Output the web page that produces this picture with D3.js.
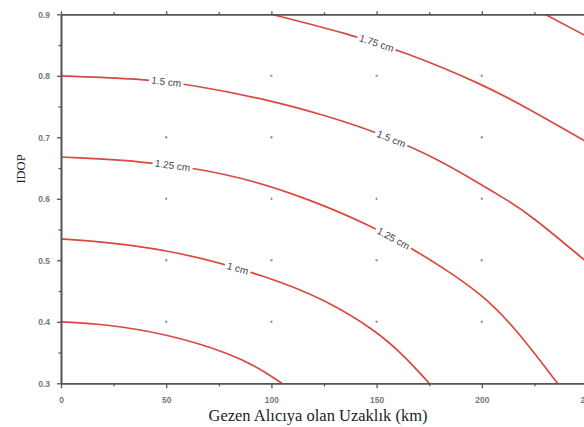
<!DOCTYPE html>
<html>
<head>
<meta charset="utf-8">
<script src="https://cdn.jsdelivr.net/npm/d3@7"></script>
<style>
  body { margin: 0; background: #fff; }
  svg { display: block; }
</style>
</head>
<body>
<div id="chart"></div>
<script>
const svgWidth = 584;
const svgHeight = 427;
const lineColor = "#d9493f";
const axisColor = "#555";

// contour lines, [distance km, IDOP]
const c075 = [[0, 0.400], [19, 0.397], [50, 0.381], [81, 0.348], [95, 0.323], [105, 0.300]];
const c100 = [[0, 0.535], [50, 0.521], [100, 0.472], [126, 0.435], [150, 0.385], [163, 0.345], [175, 0.300]];
const c125 = [[0, 0.668], [39, 0.661], [65, 0.649], [90, 0.631], [119, 0.598], [147, 0.557], [170, 0.513], [185, 0.480], [200, 0.444], [215, 0.394], [236, 0.300]];
const c150 = [[0, 0.800], [38, 0.795], [60, 0.787], [100, 0.760], [125, 0.736], [148, 0.711], [175, 0.672], [196, 0.631], [212, 0.598], [223, 0.574], [250, 0.497]];
const c175 = [[100, 0.900], [136, 0.869], [164, 0.838], [200, 0.787], [223, 0.745], [250, 0.692]];
const c200 = [[230, 0.900], [250, 0.864]];
const contours = [c075, c100, c125, c150, c175, c200];

// contour labels: which line, text, distance where it sits
const labelLine = [3, 4, 3, 2, 2, 1];
const labelText = ["1.5 cm", "1.75 cm", "1.5 cm", "1.25 cm", "1.25 cm", "1 cm"];
const labelAt = [50, 150, 157, 53, 158, 84];

const xTicks = [0, 50, 100, 150, 200, 250];
const yTicks = [0.3, 0.4, 0.5, 0.6, 0.7, 0.8, 0.9];
const xMinor = [25, 75, 125, 175, 225];
const yMinor = [0.35, 0.45, 0.55, 0.65, 0.75, 0.85];
const dotX = [50, 100, 150, 200, 250];
const dotY = [0.4, 0.5, 0.6, 0.7, 0.8];

const svg = d3.select("#chart").append("svg")
  .attr("width", svgWidth)
  .attr("height", svgHeight);

let x = d3.scaleLinear().domain([0, 250]).range([61, 587]);
let y = d3.scaleLinear().domain([0.3, 0.9]).range([383.3, 14.3]);

svg.append("clipPath").attr("id", "plot")
  .append("rect")
  .attr("x", x(0)).attr("y", y(0.9))
  .attr("width", x(250) - x(0)).attr("height", y(0.3) - y(0.9));

// grid dots
let dots = [];
dotX.forEach(a => dotY.forEach(b => dots.push([a, b])));
svg.append("g").selectAll("circle")
  .data(dots)
  .enter()
  .append("circle")
  .attr("cx", d => x(d[0]))
  .attr("cy", d => y(d[1]))
  .attr("r", 1.2)
  .attr("fill", "#9a9a9a");

// contour lines
let line = d3.line()
  .x(d => x(d[0]))
  .y(d => y(d[1]))
  .curve(d3.curveBasis);

let paths = svg.append("g").attr("clip-path", "url(#plot)")
  .selectAll("path")
  .data(contours)
  .enter()
  .append("path")
  .attr("d", line)
  .attr("fill", "none")
  .attr("stroke", lineColor)
  .attr("stroke-width", 1.7);

// find point on a path at a given x pixel
function pointAtX(node, px) {
  let lo = 0, hi = node.getTotalLength();
  for (let i = 0; i < 40; i++) {
    let mid = (lo + hi) / 2;
    if (node.getPointAtLength(mid).x < px) lo = mid; else hi = mid;
  }
  let p = node.getPointAtLength(lo);
  let a = node.getPointAtLength(Math.max(0, lo - 6));
  let b = node.getPointAtLength(lo + 6);
  return { x: p.x, y: p.y, angle: Math.atan2(b.y - a.y, b.x - a.x) * 180 / Math.PI };
}

let pathNodes = paths.nodes();
labelText.forEach((t, i) => {
  let p = pointAtX(pathNodes[labelLine[i]], x(labelAt[i]));
  svg.append("text")
    .attr("transform", `translate(${p.x},${p.y}) rotate(${p.angle})`)
    .attr("text-anchor", "middle")
    .attr("dy", "0.35em")
    .style("font-family", "'Liberation Sans', Arial, sans-serif")
    .style("font-size", "10px")
    .attr("fill", "#444")
    .attr("stroke", "#fff")
    .attr("stroke-width", 6)
    .attr("paint-order", "stroke")
    .text(t);
});

// axes
function styleAxis(g) {
  g.select(".domain").attr("stroke", axisColor).attr("stroke-width", 1.6);
  g.selectAll(".tick line").attr("stroke", axisColor).attr("stroke-width", 1.3);
  g.selectAll(".tick text")
    .attr("fill", "#777")
    .style("font-family", "'Liberation Sans', Arial, sans-serif")
    .style("font-size", "8.5px")
    .style("font-weight", "bold");
}

svg.append("g")
  .attr("transform", `translate(0,${y(0.3)})`)
  .call(d3.axisBottom(x).tickValues(xTicks).tickFormat(d3.format("d")).tickSize(5).tickPadding(9).tickSizeOuter(0))
  .call(styleAxis);
svg.append("g")
  .attr("transform", `translate(0,${y(0.3)})`)
  .call(d3.axisBottom(x).tickValues(xMinor).tickSize(3).tickFormat("").tickSizeOuter(0))
  .call(styleAxis);

svg.append("g")
  .attr("transform", `translate(0,${y(0.9)})`)
  .call(d3.axisTop(x).tickValues(xTicks).tickSize(3).tickFormat("").tickSizeOuter(0))
  .call(styleAxis);
svg.append("g")
  .attr("transform", `translate(0,${y(0.9)})`)
  .call(d3.axisTop(x).tickValues(xMinor).tickSize(2).tickFormat("").tickSizeOuter(0))
  .call(styleAxis);

svg.append("g")
  .attr("transform", `translate(${x(0)},0)`)
  .call(d3.axisLeft(y).tickValues(yTicks).tickFormat(d3.format(".1f")).tickSize(4).tickPadding(7).tickSizeOuter(0))
  .call(styleAxis);
svg.append("g")
  .attr("transform", `translate(${x(0)},0)`)
  .call(d3.axisLeft(y).tickValues(yMinor).tickSize(2.5).tickFormat("").tickSizeOuter(0))
  .call(styleAxis);

// axis titles
svg.append("text")
  .attr("x", 318)
  .attr("y", 421)
  .attr("text-anchor", "middle")
  .style("font-family", "'Liberation Serif', 'Times New Roman', serif")
  .style("font-size", "16.5px")
  .attr("fill", "#222")
  .text("Gezen Alıcıya olan Uzaklık (km)");

svg.append("text")
  .attr("transform", "translate(25,169) rotate(-90)")
  .attr("text-anchor", "middle")
  .style("font-family", "'Liberation Serif', 'Times New Roman', serif")
  .style("font-size", "12.5px")
  .attr("fill", "#222")
  .text("IDOP");
</script>
</body>
</html>
